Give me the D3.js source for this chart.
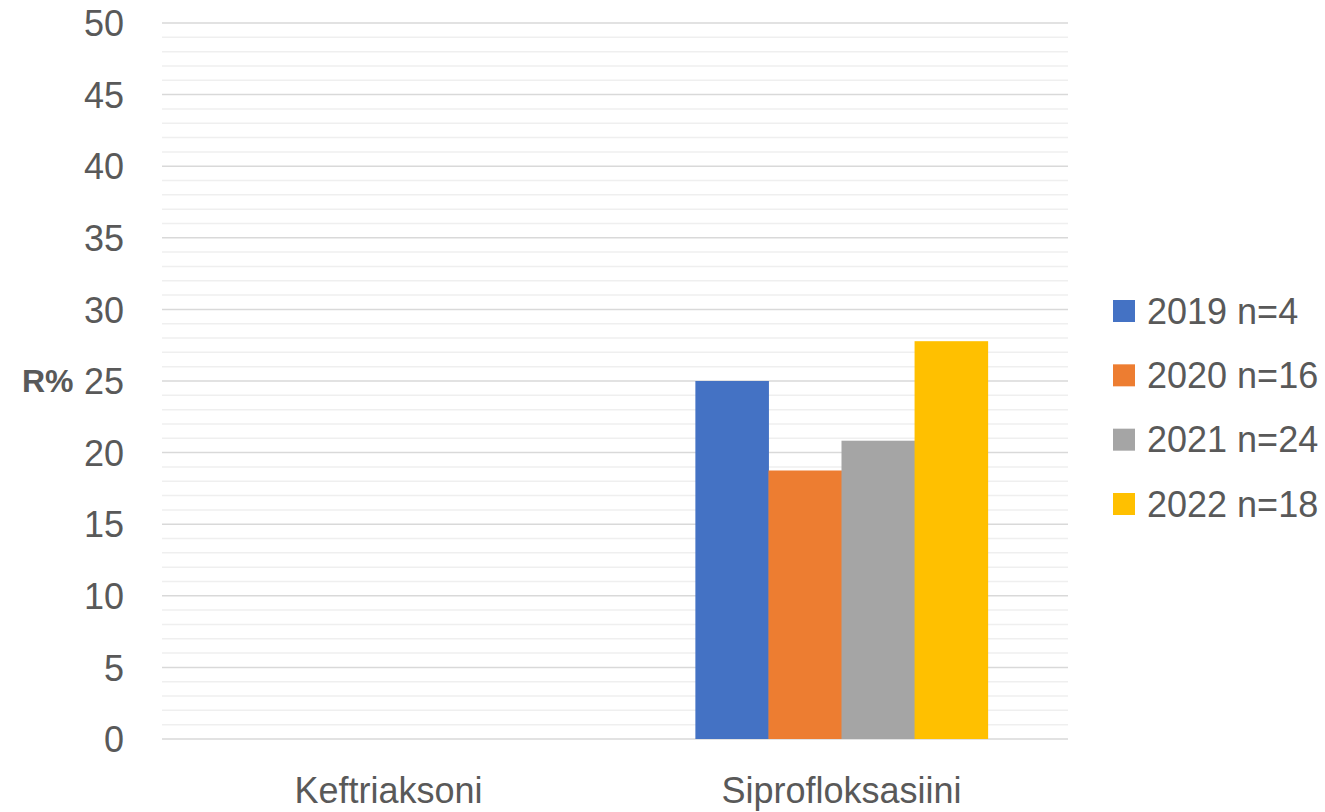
<!DOCTYPE html>
<html>
<head>
<meta charset="utf-8">
<script src="https://cdn.jsdelivr.net/npm/d3@7"></script>
<style>
  html, body { margin: 0; padding: 0; background: #fff; }
  svg { display: block; font-family: "Liberation Sans", Arial, sans-serif; }
</style>
</head>
<body>
<svg id="chart" width="1325" height="812"></svg>
<script>
const categories = ["Keftriaksoni", "Siprofloksasiini"];
const seriesNames = ["2019 n=4", "2020 n=16", "2021 n=24", "2022 n=18"];
const values2019 = [0, 25];
const values2020 = [0, 18.75];
const values2021 = [0, 20.83];
const values2022 = [0, 27.78];
const seriesColors = ["#4472C4", "#ED7D31", "#A5A5A5", "#FFC000"];
const yTicks = [0, 5, 10, 15, 20, 25, 30, 35, 40, 45, 50];
const yLabel = "R%";

const seriesValues = [values2019, values2020, values2021, values2022];

const svg = d3.select("#chart");
const plotLeft = 162, plotRight = 1068, plotTop = 23, plotBottom = 739;

const y = d3.scaleLinear().domain([0, 50]).range([plotBottom, plotTop]);
const x = d3.scaleBand().domain(categories).range([plotLeft, plotRight]).padding(0);
const groupGap = x.bandwidth() * (1 - 1 / 1.55) / 2;
const xi = d3.scaleBand().domain(seriesNames)
  .range([groupGap, x.bandwidth() - groupGap]).padding(0);

// minor gridlines
const minor = d3.range(0, 51, 1).filter(v => v % 5 !== 0);
svg.append("g").selectAll("line").data(minor).join("line")
  .attr("x1", plotLeft).attr("x2", plotRight)
  .attr("y1", d => y(d)).attr("y2", d => y(d))
  .attr("stroke", "#efefef").attr("stroke-width", 1.5);

// major gridlines
svg.append("g").selectAll("line").data(yTicks).join("line")
  .attr("x1", plotLeft).attr("x2", plotRight)
  .attr("y1", d => y(d)).attr("y2", d => y(d))
  .attr("stroke", "#d9d9d9").attr("stroke-width", 1.5);

// y axis labels
const yAxis = d3.axisLeft(y).tickValues(yTicks).tickSize(0).tickPadding(0);
const ya = svg.append("g").attr("transform", `translate(124,0)`).call(yAxis);
ya.select(".domain").remove();
ya.selectAll("text")
  .attr("font-size", 36).attr("fill", "#595959")
  .attr("font-family", "Liberation Sans, Arial, sans-serif")
  .attr("dy", "0.35em");

// y label
svg.append("text").attr("x", 22).attr("y", y(25)).attr("dy", "0.35em")
  .attr("font-size", 32).attr("font-weight", "bold").attr("fill", "#595959")
  .text(yLabel);

// bars
const rows = [];
categories.forEach((c, ci) => {
  seriesNames.forEach((s, si) => {
    rows.push({ cat: c, series: s, value: seriesValues[si][ci], color: seriesColors[si] });
  });
});
svg.append("g").selectAll("rect").data(rows).join("rect")
  .attr("x", d => x(d.cat) + xi(d.series))
  .attr("width", xi.bandwidth() + 0.5)
  .attr("y", d => y(d.value))
  .attr("height", d => y(0) - y(d.value))
  .attr("fill", d => d.color);

// x axis labels
const xAxis = d3.axisBottom(x).tickSize(0).tickPadding(0);
const xa = svg.append("g").attr("transform", `translate(0,803)`).call(xAxis);
xa.select(".domain").remove();
xa.selectAll("text")
  .attr("font-size", 36).attr("fill", "#595959")
  .attr("font-family", "Liberation Sans, Arial, sans-serif")
  .attr("dy", 0);

// legend
const legendY = d3.scalePoint().domain(seriesNames).range([311, 504]);
const lg = svg.append("g").selectAll("g").data(seriesNames).join("g")
  .attr("transform", d => `translate(1113,${legendY(d)})`);
lg.append("rect").attr("x", 0).attr("y", -11).attr("width", 22).attr("height", 22)
  .attr("fill", (d, i) => seriesColors[i]);
lg.append("text").attr("x", 34).attr("y", 0).attr("dy", "0.35em")
  .attr("font-size", 36).attr("fill", "#595959")
  .text(d => d);
</script>
</body>
</html>
